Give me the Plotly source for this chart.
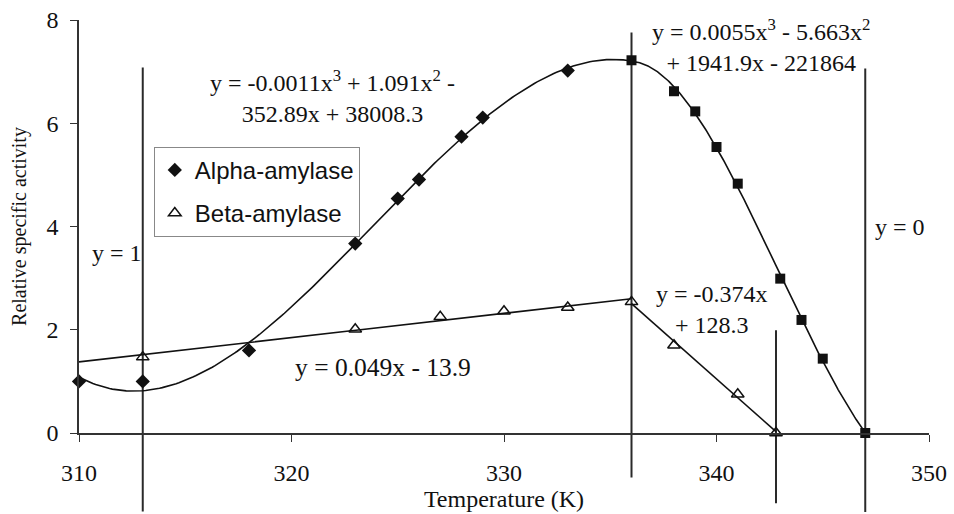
import numpy as np
import plotly.graph_objects as go

# ---------------- data ----------------
alpha_x = [310, 313, 318, 323, 325, 326, 328, 329, 333]
alpha_y = [1.0, 1.0, 1.6, 3.67, 4.54, 4.91, 5.74, 6.11, 7.02]
alpha_hi_x = [336, 338, 339, 340, 341, 343, 344, 345, 347]
alpha_hi_y = [7.22, 6.62, 6.23, 5.54, 4.83, 2.99, 2.19, 1.44, 0.0]
beta_x = [313, 323, 327, 330, 333, 336, 338, 341, 342.8]
beta_y = [1.47, 2.01, 2.25, 2.36, 2.43, 2.54, 1.70, 0.75, 0.0]

# vertical reference lines: x position, lower end, upper end (data units)
ref_x = [313, 336, 342.8, 347]
ref_lo = [-1.52, -0.86, -1.36, -1.53]
ref_hi = [7.08, 7.76, 1.99, 7.06]

x_ticks = [310, 320, 330, 340, 350]
y_ticks = [0, 2, 4, 6, 8]
X_RANGE = [310, 350]
Y_RANGE = [0, 8]

eq_text = [
    "y = -0.0011x<sup>3</sup> + 1.091x<sup>2</sup> -<br>352.89x + 38008.3",
    "y = 0.0055x<sup>3</sup> - 5.663x<sup>2</sup><br>+ 1941.9x - 221864",
    "y = 1",
    "y = 0",
    "y = 0.049x - 13.9",
    "y = -0.374x<br>+ 128.3",
]
eq_x = [321.95, 342.09, 311.77, 348.64, 324.32, 339.79]
eq_y = [6.51, 7.50, 3.48, 4.00, 1.27, 2.40]
eq_size = [24, 24, 24, 24, 25.5, 24]

SERIF = "Liberation Serif"
SANS = "Liberation Sans"
INK = "#111111"

# ---------------- trendlines (fitted from the read points) ----------------
def fit_line(xs, ys, deg, x0, x1):
    xs = np.asarray(xs, float)
    c = np.polyfit(xs - x0, np.asarray(ys, float), deg)
    xx = np.linspace(x0, x1, 200)
    return xx, np.polyval(c, xx - x0)

a1x, a1y = fit_line(alpha_x + [alpha_hi_x[0]], alpha_y + [alpha_hi_y[0]], 3, 310, 336)
a2x, a2y = fit_line(alpha_hi_x, alpha_hi_y, 3, 336, 347)
b1x, b1y = fit_line(beta_x[:6], beta_y[:6], 1, 310, 336)
b2x, b2y = fit_line(beta_x[5:], beta_y[5:], 1, 336, 342.8)

fig = go.Figure()
for xx, yy in [(a1x, a1y), (a2x, a2y), (b1x, b1y), (b2x, b2y)]:
    fig.add_trace(go.Scatter(x=xx, y=yy, mode="lines", showlegend=False,
                             hoverinfo="skip",
                             line=dict(color=INK, width=1.6)))

fig.add_trace(go.Scatter(x=alpha_x, y=alpha_y, mode="markers", name="Alpha-amylase",
                         legendgroup="a", cliponaxis=False,
                         marker=dict(symbol="diamond", size=11, color=INK)))
fig.add_trace(go.Scatter(x=alpha_hi_x, y=alpha_hi_y, mode="markers", showlegend=False,
                         cliponaxis=False,
                         marker=dict(symbol="square", size=10, color=INK)))
fig.add_trace(go.Scatter(x=beta_x, y=beta_y, mode="markers", name="Beta-amylase",
                         legendgroup="b", cliponaxis=False,
                         marker=dict(symbol="triangle-up-open", size=11, color=INK,
                                     line=dict(width=1.5, color=INK))))

def ypaper(v):
    return (v - Y_RANGE[0]) / (Y_RANGE[1] - Y_RANGE[0])

for xv, lo, hi in zip(ref_x, ref_lo, ref_hi):
    fig.add_shape(type="line", xref="x", yref="paper", x0=xv, x1=xv,
                  y0=ypaper(lo), y1=ypaper(hi), layer="below",
                  line=dict(color="#2a2a2a", width=2))

for t, xv, yv, sz in zip(eq_text, eq_x, eq_y, eq_size):
    fig.add_annotation(x=xv, y=yv, xref="x", yref="y", text=t, showarrow=False,
                       align="center", font=dict(family=SERIF, size=sz, color=INK))

fig.update_layout(
    template="none",
    width=954, height=514,
    margin=dict(l=79, r=25, t=20, b=81),
    font=dict(family=SERIF, size=24, color=INK),
    paper_bgcolor="white", plot_bgcolor="rgba(0,0,0,0)",
    showlegend=True,
    legend=dict(x=0.088, y=0.693, xanchor="left", yanchor="top",
                bgcolor="white", bordercolor="#888888", borderwidth=1,
                font=dict(family=SANS, size=24, color=INK),
                traceorder="grouped", tracegroupgap=9),
    xaxis=dict(range=X_RANGE, tickvals=x_ticks, showgrid=False, zeroline=False,
               automargin=False,
               showline=True, linecolor="#333333", linewidth=1.5,
               ticks="outside", ticklen=7, tickcolor="#333333", tickwidth=1.2,
               ticklabelstandoff=10,
               tickfont=dict(family=SERIF, size=24, color=INK),
               title=dict(text="Temperature (K)", standoff=4,
                          font=dict(family=SERIF, size=24, color=INK))),
    yaxis=dict(range=Y_RANGE, tickvals=y_ticks, showgrid=False, zeroline=False,
               automargin=False,
               showline=True, linecolor="#333333", linewidth=1.5,
               ticks="outside", ticklen=7, tickcolor="#333333", tickwidth=1.2,
               ticklabelstandoff=7,
               tickfont=dict(family=SERIF, size=24, color=INK),
               title=dict(text="Relative specific activity", standoff=14,
                          font=dict(family=SERIF, size=20, color=INK))),
)

fig.write_html("out.html")
